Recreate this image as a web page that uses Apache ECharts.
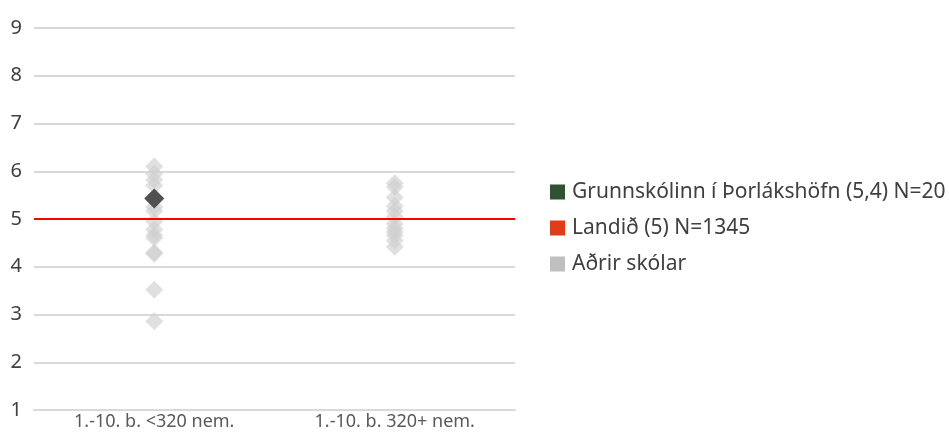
<!DOCTYPE html>
<html>
<head>
<meta charset="utf-8">
<script src="https://cdn.jsdelivr.net/npm/echarts@6/dist/echarts.min.js"></script>
<style>html,body{margin:0;padding:0;background:#fff}#c{width:949px;height:432px}</style>
</head>
<body>
<div id="c"></div>
<script>
var categories = ['1.-10. b. <320 nem.', '1.-10. b. 320+ nem.'];
var yTicks = [1, 2, 3, 4, 5, 6, 7, 8, 9];
var othersSmall = [6.1, 5.95, 5.82, 5.7, 5.45, 5.25, 5.17, 4.95, 4.78, 4.66, 4.6, 4.3, 4.27, 3.52, 2.86];
var othersLarge = [5.75, 5.67, 5.45, 5.27, 5.17, 5.05, 4.9, 4.8, 4.73, 4.66, 4.55, 4.42];
var schoolValue = 5.43;
var schoolCategory = 0;
var nationalValue = 5;
var seriesNames = ['Grunnskólinn í Þorlákshöfn (5,4) N=20', 'Landið (5) N=1345', 'Aðrir skólar'];

var othersData = othersSmall.map(function(v){return [0, v];})
  .concat(othersLarge.map(function(v){return [1, v];}));

var chart = echarts.init(document.getElementById('c'));
chart.setOption({
  animation: false,
  textStyle: {fontFamily: 'Noto Sans'},
  grid: {left: 34, right: 434, top: 28, bottom: 22},
  xAxis: {
    type: 'category', data: categories,
    axisLine: {show: true, lineStyle: {color: '#d9d9d9', width: 2}},
    axisTick: {show: false},
    axisLabel: {color: '#595959', fontSize: 18, margin: 3, fontFamily: 'Noto Sans'}
  },
  yAxis: {
    type: 'value', min: yTicks[0], max: yTicks[yTicks.length-1], interval: 1,
    axisLine: {show: false}, axisTick: {show: false},
    axisLabel: {color: '#404040', fontSize: 20, margin: 12},
    splitLine: {lineStyle: {color: '#d9d9d9', width: 2}}
  },
  legend: {
    orient: 'vertical', left: 550, top: 180, itemGap: 12, padding: 0,
    itemWidth: 15, itemHeight: 15,
    textStyle: {color: '#404040', fontSize: 21, lineHeight: 24, padding: [0,0,0,2]},
    data: [
      {name: seriesNames[0], icon: 'rect', itemStyle: {color: '#2d5330', opacity: 1}},
      {name: seriesNames[1], icon: 'rect', itemStyle: {color: '#e03c17', opacity: 1}},
      {name: seriesNames[2], icon: 'rect', itemStyle: {color: '#bfbfbf', opacity: 1}}
    ]
  },
  series: [
    {
      name: seriesNames[1], type: 'line', data: [], z: 1,
      itemStyle: {color: '#e03c17'},
      markLine: {silent: true, symbol: 'none', label: {show: false},
        lineStyle: {color: '#ff0000', width: 2, type: 'solid'},
        data: [{yAxis: nationalValue}]}
    },
    {
      name: seriesNames[2], type: 'scatter', symbol: 'diamond', symbolSize: 18, z: 2,
      itemStyle: {color: '#d0d0d0', opacity: 0.65},
      data: othersData
    },
    {
      name: seriesNames[0], type: 'scatter', symbol: 'diamond', symbolSize: 20, z: 3,
      itemStyle: {color: '#505050', opacity: 1},
      data: [[schoolCategory, schoolValue]]
    }
  ]
});
</script>
</body>
</html>
